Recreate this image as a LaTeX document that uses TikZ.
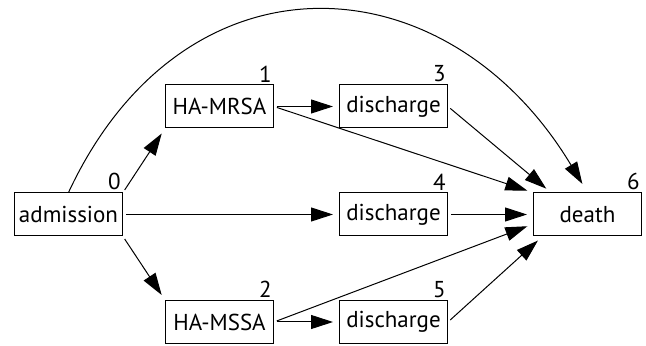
\documentclass[tikz,border=0pt]{standalone}
\usepackage{fontspec}
\setmainfont{PT Sans}
\usetikzlibrary{arrows.meta, positioning}

\begin{document}
\begin{tikzpicture}[x=0.5pt, y=0.5pt,
    every node/.style={align=center, font=\fontsize{11.5}{13}\selectfont},
    state/.style={draw, rectangle, line width=0.5pt, minimum width=54pt, minimum height=21.5pt, inner sep=2pt},
    num/.style={anchor=south east, inner sep=1pt},
    edge/.style={-{Triangle[length=11pt, width=7pt]}, line width=0.5pt, shorten >=3pt, shorten <=1.5pt}]
   \useasboundingbox (0,0) rectangle (646,-346);

   \node[state, label={[num]north east:0}] (admission) at (68.5,-214.5) {admission};
   \node[state, label={[num]north east:1}] (mrsa) at (219.5,-106.5) {HA-MRSA};
   \node[state, label={[num]north east:2}] (mssa) at (219.5,-322) {HA-MSSA};
   \node[state, label={[num]north east:3}] (dis3) at (393.5,-106.5) {discharge};
   \node[state, label={[num]north east:4}] (dis4) at (393.5,-214.5) {discharge};
   \node[state, label={[num]north east:5}] (dis5) at (393.5,-322) {discharge};
   \node[state, label={[num]north east:6}] (death) at (587.5,-214.5) {death};

   \draw[edge] (admission.north east) -- (mrsa.south west);
   \draw[edge] (admission.south east) -- (mssa.north west);
   \draw[edge] (admission.east) -- (dis4.west);
   \draw[edge] (mrsa.east) -- (dis3.west);
   \draw[edge] (mssa.east) -- (dis5.west);
   \draw[edge] (mrsa.east) -- (death.north west);
   \draw[edge] (mssa.east) -- (death.190);
   \draw[edge] (dis3.east) -- (death.149);
   \draw[edge] (dis4.east) -- (death.west);
   \draw[edge] (dis5.east) -- (death.206);
   \draw[edge, shorten >=5pt, shorten <=0pt] (admission.north) to[out=65, in=121, looseness=1.35] (death.north);
 \end{tikzpicture}
\end{document}
